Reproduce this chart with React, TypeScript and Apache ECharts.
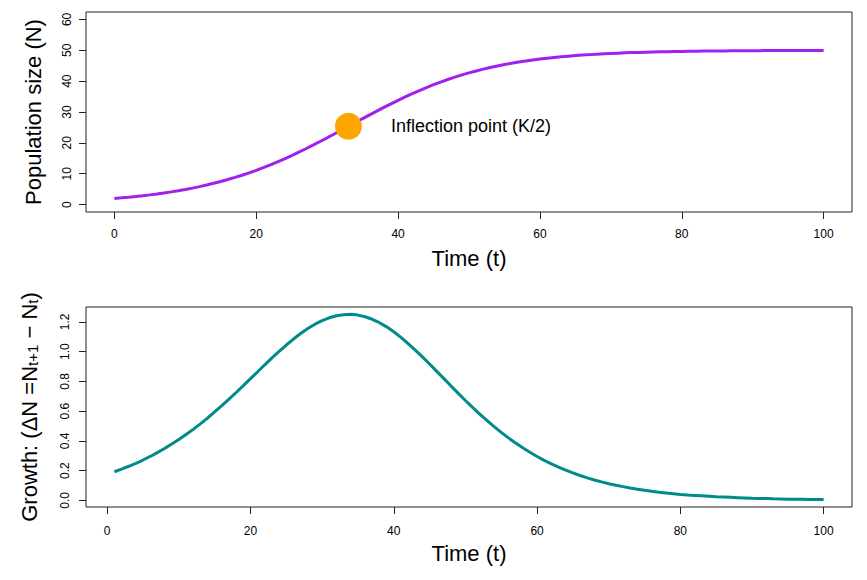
import React, { useEffect, useRef } from "react";
import * as echarts from "echarts";

// Time steps
const TIME_N: number[] = Array.from({ length: 101 }, (_, i) => i); // 0..100
const TIME_DN: number[] = Array.from({ length: 100 }, (_, i) => i + 1); // 1..100

// Population size N(t)
const POP_N: number[] = [
  2.0, 2.19, 2.4, 2.63, 2.88, 3.15, 3.45, 3.77, 4.12, 4.49,
  4.9, 5.34, 5.82, 6.34, 6.89, 7.48, 8.12, 8.8, 9.52, 10.3,
  11.11, 11.98, 12.89, 13.84, 14.85, 15.89, 16.97, 18.09, 19.25, 20.43,
  21.64, 22.87, 24.11, 25.36, 26.61, 27.85, 29.09, 30.3, 31.5, 32.66,
  33.79, 34.89, 35.94, 36.95, 37.92, 38.84, 39.7, 40.52, 41.29, 42.01,
  42.68, 43.3, 43.88, 44.42, 44.92, 45.37, 45.79, 46.18, 46.53, 46.85,
  47.15, 47.42, 47.66, 47.89, 48.09, 48.27, 48.44, 48.59, 48.73, 48.85,
  48.96, 49.06, 49.16, 49.24, 49.31, 49.38, 49.44, 49.5, 49.55, 49.59,
  49.63, 49.67, 49.7, 49.73, 49.76, 49.78, 49.8, 49.82, 49.84, 49.86,
  49.87, 49.88, 49.9, 49.91, 49.92, 49.92, 49.93, 49.94, 49.94, 49.95,
  49.96,
];

// Growth dN(t) for t = 1..100
const GROWTH_DN: number[] = [
  0.192, 0.21, 0.229, 0.249, 0.271, 0.295, 0.321, 0.348, 0.378, 0.409,
  0.442, 0.477, 0.514, 0.553, 0.594, 0.636, 0.68, 0.725, 0.771, 0.818,
  0.864, 0.911, 0.957, 1.001, 1.044, 1.084, 1.121, 1.155, 1.184, 1.208,
  1.227, 1.241, 1.248, 1.25, 1.245, 1.234, 1.217, 1.194, 1.166, 1.133,
  1.095, 1.054, 1.01, 0.964, 0.916, 0.867, 0.818, 0.768, 0.719, 0.671,
  0.625, 0.58, 0.537, 0.496, 0.457, 0.42, 0.385, 0.353, 0.323, 0.295,
  0.269, 0.245, 0.223, 0.203, 0.184, 0.167, 0.151, 0.137, 0.124, 0.112,
  0.102, 0.092, 0.083, 0.075, 0.068, 0.061, 0.055, 0.05, 0.045, 0.04,
  0.036, 0.033, 0.03, 0.027, 0.024, 0.022, 0.02, 0.018, 0.016, 0.014,
  0.013, 0.012, 0.01, 0.009, 0.008, 0.008, 0.007, 0.006, 0.006, 0.005,
];

// Inflection point
const INFLECTION_T = 33;
const INFLECTION_N = 25.36;
const INFLECTION_LABEL = "Inflection point (K/2)";

// Tick labels
const X_TICKS: number[] = [0, 20, 40, 60, 80, 100];
const Y_TICKS_TOP: number[] = [0, 10, 20, 30, 40, 50, 60];
const Y_TICKS_BOTTOM: number[] = [0, 0.2, 0.4, 0.6, 0.8, 1.0, 1.2];

const FONT = "Liberation Sans, Arial, Helvetica, sans-serif";
const LINE_COLOR = "#222";

export default function App() {
  const ref = useRef<HTMLDivElement>(null);

  useEffect(() => {
    if (!ref.current) return;
    const chart = echarts.init(ref.current, undefined, { renderer: "svg" });

    const xAxisCommon = (margin: number) => ({
      type: "value" as const,
      axisLine: { show: false, onZero: false },
      splitLine: { show: false },
      axisTick: {
        show: true,
        inside: false,
        length: 7,
        customValues: X_TICKS,
        lineStyle: { color: LINE_COLOR, width: 1 },
      },
      axisLabel: {
        customValues: X_TICKS,
        margin,
        fontSize: 12,
        color: "#000",
        fontFamily: FONT,
      },
    });

    const yAxisCommon = (ticks: number[], margin: number, fmt?: (v: number) => string) => ({
      type: "value" as const,
      axisLine: { show: false, onZero: false },
      splitLine: { show: false },
      axisTick: {
        show: true,
        inside: false,
        length: 7,
        customValues: ticks,
        lineStyle: { color: LINE_COLOR, width: 1 },
      },
      axisLabel: {
        customValues: ticks,
        rotate: 90,
        margin,
        fontSize: 12,
        color: "#000",
        fontFamily: FONT,
        formatter: fmt,
      },
    });

    const option: any = {
      animation: false,
      backgroundColor: "#fff",
      grid: [
        {
          left: 86, top: 12, width: 766, height: 200,
          show: true, borderColor: LINE_COLOR, borderWidth: 1,
          containLabel: false, outerBoundsMode: "none",
        },
        {
          left: 86, top: 307, width: 766, height: 200,
          show: true, borderColor: LINE_COLOR, borderWidth: 1,
          containLabel: false, outerBoundsMode: "none",
        },
      ],
      xAxis: [
        { gridIndex: 0, min: -4, max: 104, ...xAxisCommon(16) },
        { gridIndex: 1, min: -2.96, max: 103.96, ...xAxisCommon(18) },
      ],
      yAxis: [
        { gridIndex: 0, min: -2.4, max: 62.4, ...yAxisCommon(Y_TICKS_TOP, 13) },
        {
          gridIndex: 1, min: -0.0448, max: 1.2995,
          ...yAxisCommon(Y_TICKS_BOTTOM, 15, (v: number) => v.toFixed(1)),
        },
      ],
      series: [
        {
          type: "line",
          xAxisIndex: 0,
          yAxisIndex: 0,
          data: TIME_N.map((t, i) => [t, POP_N[i]]),
          showSymbol: false,
          lineStyle: { color: "#A020F0", width: 3 },
          itemStyle: { color: "#A020F0" },
          z: 2,
        },
        {
          type: "scatter",
          xAxisIndex: 0,
          yAxisIndex: 0,
          data: [[INFLECTION_T, INFLECTION_N]],
          symbol: "circle",
          symbolSize: 27,
          itemStyle: { color: "#FFA500", opacity: 1 },
          label: {
            show: true,
            position: "right",
            distance: 29,
            formatter: INFLECTION_LABEL,
            fontSize: 18,
            color: "#000",
            opacity: 1,
            fontFamily: FONT,
          },
          z: 3,
        },
        {
          type: "line",
          xAxisIndex: 1,
          yAxisIndex: 1,
          data: TIME_DN.map((t, i) => [t, GROWTH_DN[i]]),
          showSymbol: false,
          lineStyle: { color: "#008B8B", width: 3 },
          itemStyle: { color: "#008B8B" },
        },
      ],
      graphic: [
        {
          type: "text",
          x: 469,
          y: 258,
          style: {
            text: "Time (t)",
            fontSize: 22,
            fontFamily: FONT,
            fill: "#000",
            align: "center",
            verticalAlign: "middle",
          },
        },
        {
          type: "text",
          x: 469,
          y: 553,
          style: {
            text: "Time (t)",
            fontSize: 22,
            fontFamily: FONT,
            fill: "#000",
            align: "center",
            verticalAlign: "middle",
          },
        },
        {
          type: "text",
          x: 33,
          y: 112,
          rotation: Math.PI / 2,
          style: {
            text: "Population size (N)",
            fontSize: 22,
            fontFamily: FONT,
            fill: "#000",
            align: "center",
            verticalAlign: "middle",
          },
        },
        {
          type: "text",
          x: 29,
          y: 407,
          rotation: Math.PI / 2,
          style: {
            text: "{m|Growth: (ΔN =N}{s|t+1}{m| − N}{s|t}{m|)}",
            fontSize: 22,
            fontFamily: FONT,
            fill: "#000",
            align: "center",
            verticalAlign: "middle",
            rich: {
              m: {
                fontSize: 22,
                lineHeight: 22,
                fontFamily: FONT,
                fill: "#000",
                verticalAlign: "top",
              },
              s: {
                fontSize: 15,
                lineHeight: 15,
                fontFamily: FONT,
                fill: "#000",
                verticalAlign: "bottom",
                padding: [10, 0, 0, 0],
              },
            },
          },
        },
      ],
    };

    chart.setOption(option);
    return () => {
      chart.dispose();
    };
  }, []);

  return (
    <div
      ref={ref}
      style={{ position: "fixed", left: 0, top: 0, width: 867, height: 580, background: "#fff" }}
    />
  );
}
